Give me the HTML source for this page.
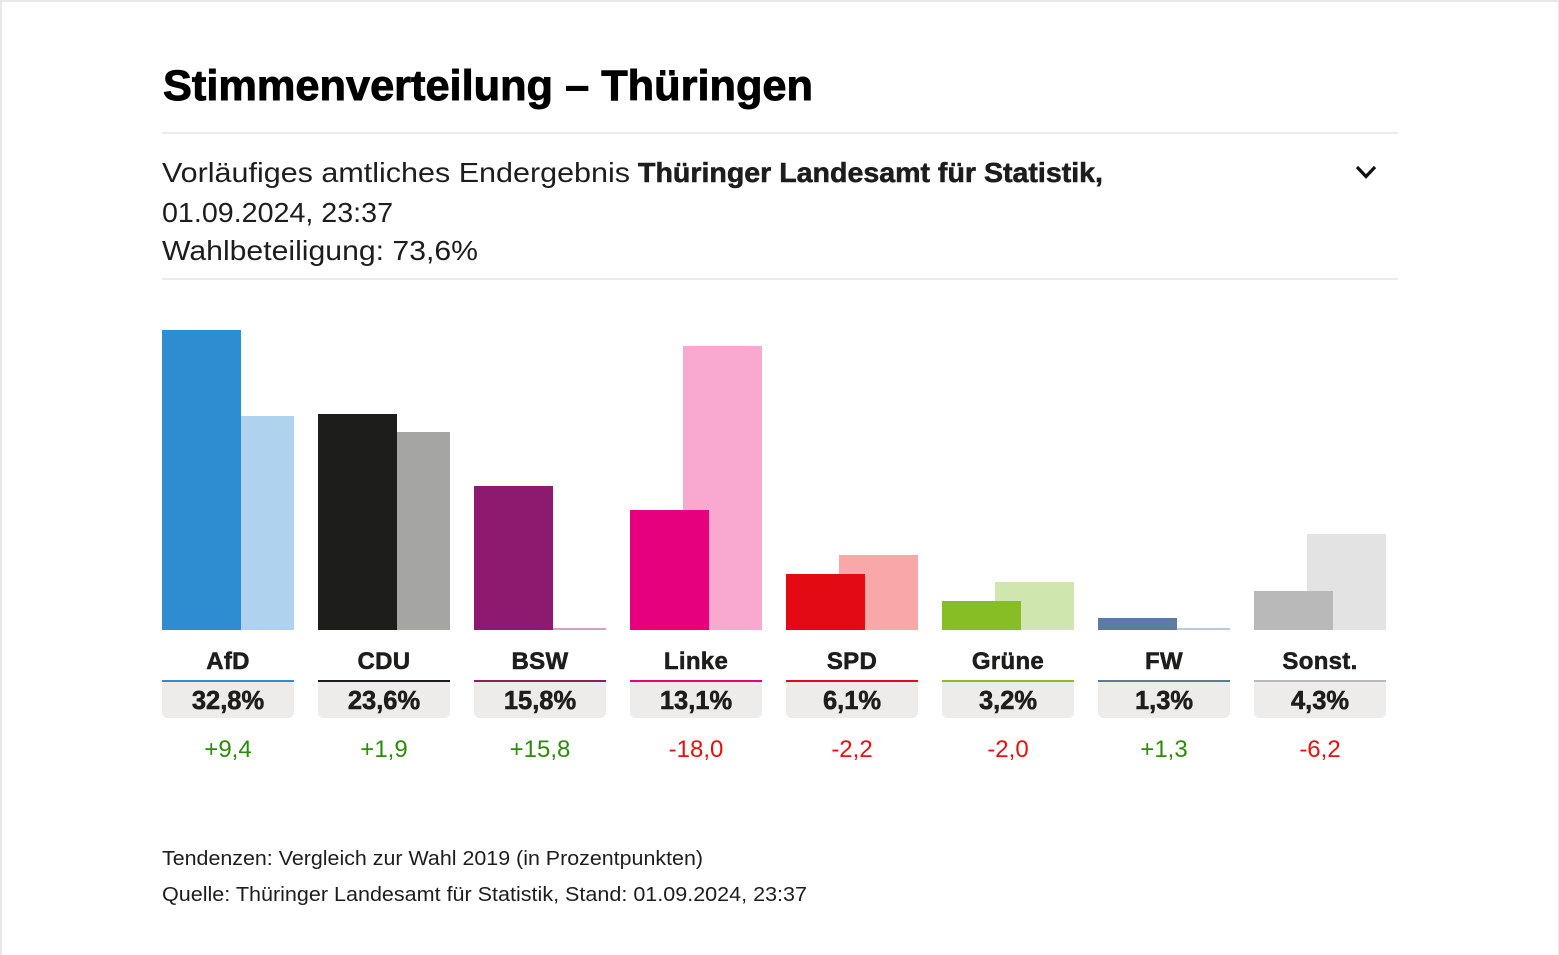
<!DOCTYPE html>
<html lang="de">
<head>
<meta charset="utf-8">
<title>Stimmenverteilung – Thüringen</title>
<style>
html,body{margin:0;padding:0;width:1559px;height:955px;overflow:hidden;background:#fff}
svg{display:block;position:absolute;left:0;top:0}
text{font-family:"Liberation Sans",sans-serif;fill:#1d1d1b}
.heavy{stroke:#1d1d1b;stroke-width:.55px;paint-order:stroke}
.title{fill:#000;stroke:#000;stroke-width:.9px;paint-order:stroke}
</style>
</head>
<body>
<svg id="chart" width="1559" height="955" viewBox="0 0 1559 955" xmlns="http://www.w3.org/2000/svg">
  <rect x="0" y="0" width="1559" height="2" fill="#e8e8e8"/>
  <rect x="0" y="0" width="2" height="955" fill="#e8e8e8"/>
  <rect x="1558" y="0" width="1" height="955" fill="#e8e8e8"/>

  <text class="title" x="163" y="100" font-size="43" font-weight="700" style="fill:#000" textLength="650" lengthAdjust="spacingAndGlyphs">Stimmenverteilung – Thüringen</text>
  <rect x="162" y="132" width="1236" height="2" fill="#ecebe8"/>

  <text x="162" y="182" font-size="28" textLength="468" lengthAdjust="spacingAndGlyphs">Vorläufiges amtliches Endergebnis</text>
  <text class="heavy" x="638" y="182" font-size="28" font-weight="700" textLength="465" lengthAdjust="spacingAndGlyphs">Thüringer Landesamt für Statistik,</text>
  <text x="162" y="222" font-size="28" textLength="231" lengthAdjust="spacingAndGlyphs">01.09.2024, 23:37</text>
  <text x="162" y="260" font-size="28" textLength="316" lengthAdjust="spacingAndGlyphs">Wahlbeteiligung: 73,6%</text>
  <polyline points="1357,167 1366,176.500 1375,167" fill="none" stroke="#111" stroke-width="3.200"/>
  <rect x="162" y="278" width="1236" height="2" fill="#ecebe8"/>

  <g id="bars"></g>

  <text x="162" y="865" font-size="20" textLength="541" lengthAdjust="spacingAndGlyphs">Tendenzen: Vergleich zur Wahl 2019 (in Prozentpunkten)</text>
  <text x="162" y="901" font-size="20" textLength="645" lengthAdjust="spacingAndGlyphs">Quelle: Thüringer Landesamt für Statistik, Stand: 01.09.2024, 23:37</text>
</svg>
<script>
const parties = ["AfD", "CDU", "BSW", "Linke", "SPD", "Grüne", "FW", "Sonst."];
const shares = [32.8, 23.6, 15.8, 13.1, 6.1, 3.2, 1.3, 4.3];
const previousShares = [23.4, 21.7, 0, 31.1, 8.2, 5.2, 0, 10.5];
const changes = [9.4, 1.9, 15.8, -18.0, -2.2, -2.0, 1.3, -6.2];
const colors = ["#2e8dd0", "#1d1d1b", "#8e1a6f", "#e6007e", "#e30a13", "#87bd25", "#5b7ba3", "#b9b9b9"];
const lightColors = ["#afd2ee", "#a5a5a4", "#d2a3c5", "#f9a8cf", "#f9a8a8", "#cfe6ae", "#bdcade", "#e3e3e3"];

const baseY = 630, pxPerPoint = 9.14, minBar = 2;
const slotX = i => 162 + i * 156;
const barTop = v => Math.round(baseY - Math.max(minBar, v * pxPerPoint));
const fmt = v => v.toFixed(1).replace(".", ",");
const fmtDelta = v => (v > 0 ? "+" : "-") + fmt(Math.abs(v));
const NS = "http://www.w3.org/2000/svg";
const root = document.getElementById("bars");

function make(tag, attrs, parent) {
  const el = document.createElementNS(NS, tag);
  for (const k in attrs) el.setAttribute(k, attrs[k]);
  parent.appendChild(el);
  return el;
}

parties.forEach((party, i) => {
  const x = slotX(i), cx = x + 66;
  const slug = party.toLowerCase().replace(/[^a-zü]/g, "");
  const g = make("g", {}, root);
  
  

  const prevTop = barTop(previousShares[i]);
  const prev = make("rect", {x: x + 53, y: prevTop, width: 79, height: baseY - prevTop, fill: lightColors[i]}, g);
  
  

  const curTop = barTop(shares[i]);
  const cur = make("rect", {x: x, y: curTop, width: 79, height: baseY - curTop, fill: colors[i]}, g);
  
  

  const label = make("text", {x: cx, y: 669, "text-anchor": "middle", "font-size": 24, "font-weight": 700, "letter-spacing": 0.3, class: "heavy"}, g);
  label.textContent = party;
  
  

  const pill = make("path", {d: `M${x} 682H${x + 132}V712a6 6 0 0 1 -6 6H${x + 6}a6 6 0 0 1 -6 -6Z`, fill: "#edecea"}, g);
  
  

  const rule = make("rect", {x: x, y: 680, width: 132, height: 2, fill: colors[i]}, g);
  
  

  const value = make("text", {x: cx, y: 709, "text-anchor": "middle", "font-size": 25.5, "font-weight": 700, class: "heavy"}, g);
  value.textContent = fmt(shares[i]) + "%";
  
  

  const delta = make("text", {x: cx, y: 757, "text-anchor": "middle", "font-size": 24}, g);
  delta.style.fill = changes[i] >= 0 ? "#2e8b0a" : "#e8100f";
  delta.textContent = fmtDelta(changes[i]);
  
  
});
</script>
</body>
</html>
